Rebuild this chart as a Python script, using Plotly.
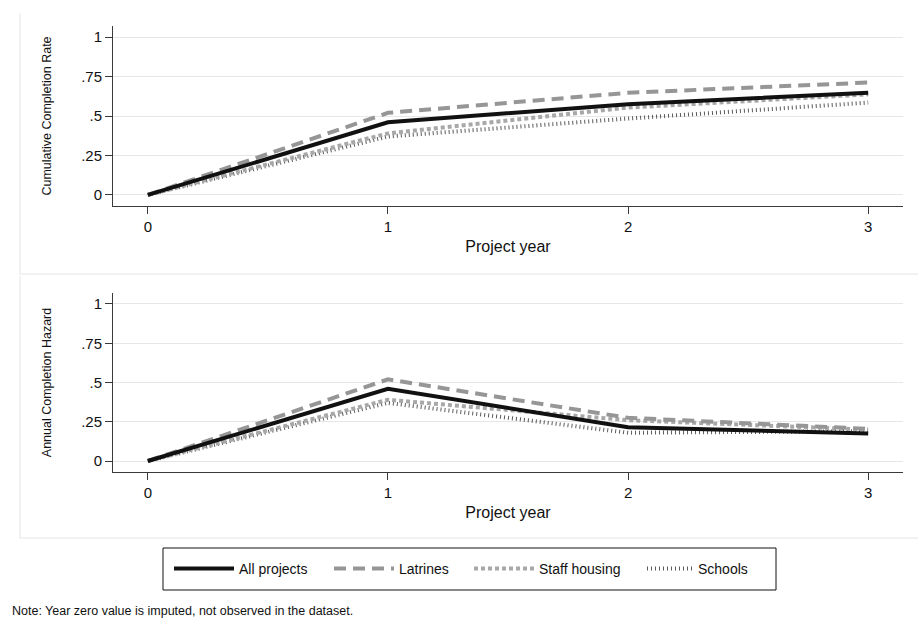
import plotly.graph_objects as go

# Project year on the horizontal axis
years = [0, 1, 2, 3]

# Cumulative completion rate by project type
cum_all = [0, 0.46, 0.575, 0.647]
cum_latrines = [0, 0.52, 0.647, 0.712]
cum_staff = [0, 0.39, 0.553, 0.637]
cum_schools = [0, 0.37, 0.484, 0.585]

# Annual completion hazard by project type
haz_all = [0, 0.46, 0.215, 0.175]
haz_latrines = [0, 0.52, 0.275, 0.205]
haz_staff = [0, 0.39, 0.26, 0.2]
haz_schools = [0, 0.37, 0.18, 0.19]

series_names = ["All projects", "Latrines", "Staff housing", "Schools"]
ytick_vals = [0, 0.25, 0.5, 0.75, 1]
ytick_text = ["0", ".25", ".5", ".75", "1"]

styles = [
    dict(color="#111111", width=4, dash="solid"),
    dict(color="#969696", width=4, dash="12px,7px"),
    dict(color="#a8a8a8", width=4, dash="4px,3px"),
    dict(color="#5a5a5a", width=4, dash="1px,3px"),
]

W, H = 918, 633
FONT = "Liberation Sans, Arial, Helvetica, sans-serif"


def px_x(v):
    return v / W


def px_y(v):
    return 1 - v / H


# one legend per series so each key sits at its own spot in the shared box
legend_ids = ["legend", "legend2", "legend3", "legend4"]
legend_left = [169, 329, 469, 642]
legend_keyw = [60, 60, 60, 46]

fig = go.Figure()

panels = [
    ("x", "y", [cum_all, cum_latrines, cum_staff, cum_schools]),
    ("x2", "y2", [haz_all, haz_latrines, haz_staff, haz_schools]),
]
for p, (xa, ya, data) in enumerate(panels):
    # draw the schools series first so the solid line sits on top
    for i in [3, 2, 1, 0]:
        fig.add_trace(go.Scatter(
            x=years, y=data[i], mode="lines", name=series_names[i],
            line=styles[i], xaxis=xa, yaxis=ya,
            showlegend=(p == 0), legend=legend_ids[i],
        ))

xaxis_style = dict(
    range=[-0.145, 3.145], tickvals=years, ticktext=[str(v) for v in years],
    showgrid=False, zeroline=False, showline=True, linecolor="#3a3a3a",
    linewidth=1, ticks="outside", ticklen=7, tickcolor="#3a3a3a",
    tickfont=dict(size=15, color="#111111", family=FONT),
    title=dict(text="Project year", font=dict(size=16, color="#111111", family=FONT),
               standoff=6),
    domain=[px_x(113), px_x(903)],
)
yaxis_common = dict(
    range=[-0.07, 1.07], tickvals=ytick_vals, ticktext=ytick_text,
    showgrid=True, gridcolor="#e6e6e6", gridwidth=1, zeroline=False,
    showline=True, linecolor="#3a3a3a", linewidth=1, ticks="outside",
    ticklen=7, tickcolor="#3a3a3a",
    tickfont=dict(size=15, color="#111111", family=FONT),
)

legend_common = dict(
    orientation="h", xanchor="left", yanchor="middle", y=px_y(569),
    borderwidth=0, bgcolor="rgba(0,0,0,0)",
    font=dict(size=14, color="#111111", family=FONT),
)

fig.update_layout(
    width=W, height=H,
    margin=dict(l=0, r=0, t=0, b=0),
    paper_bgcolor="white", plot_bgcolor="white",
    font=dict(family=FONT, color="#111111"),
    xaxis=dict(xaxis_style, anchor="y"),
    xaxis2=dict(xaxis_style, anchor="y2"),
    yaxis=dict(yaxis_common, anchor="x", domain=[px_y(206), px_y(26)],
               title=dict(text="Cumulative Completion Rate",
                          font=dict(size=12.5, color="#111111", family=FONT),
                          standoff=26)),
    yaxis2=dict(yaxis_common, anchor="x2", domain=[px_y(472), px_y(293)],
                title=dict(text="Annual Completion Hazard",
                           font=dict(size=12.5, color="#111111", family=FONT),
                           standoff=26)),
    showlegend=True,
)
for lid, left, kw in zip(legend_ids, legend_left, legend_keyw):
    fig.update_layout({lid: dict(legend_common, x=px_x(left), itemwidth=kw)})

# box around the legend keys
fig.add_shape(type="rect", xref="paper", yref="paper",
              x0=px_x(163), x1=px_x(776), y0=px_y(590), y1=px_y(548),
              line=dict(color="#111111", width=1), fillcolor="rgba(0,0,0,0)")

# light frames around each panel
frame = dict(type="line", xref="paper", yref="paper",
             line=dict(color="#e4e4e4", width=1))
fig.add_shape(frame, x0=px_x(20), x1=px_x(20), y0=px_y(13), y1=px_y(274))
fig.add_shape(frame, x0=px_x(20), x1=1, y0=px_y(274), y1=px_y(274))
fig.add_shape(frame, x0=px_x(20), x1=px_x(20), y0=px_y(276), y1=px_y(538))
fig.add_shape(frame, x0=px_x(20), x1=1, y0=px_y(538), y1=px_y(538))

fig.add_annotation(
    text="Note: Year zero value is imputed, not observed in the dataset.",
    xref="paper", yref="paper", x=px_x(10), y=px_y(611),
    xanchor="left", yanchor="middle", showarrow=False,
    font=dict(size=12.5, color="#111111", family=FONT),
)

fig.write_html("out.html")
